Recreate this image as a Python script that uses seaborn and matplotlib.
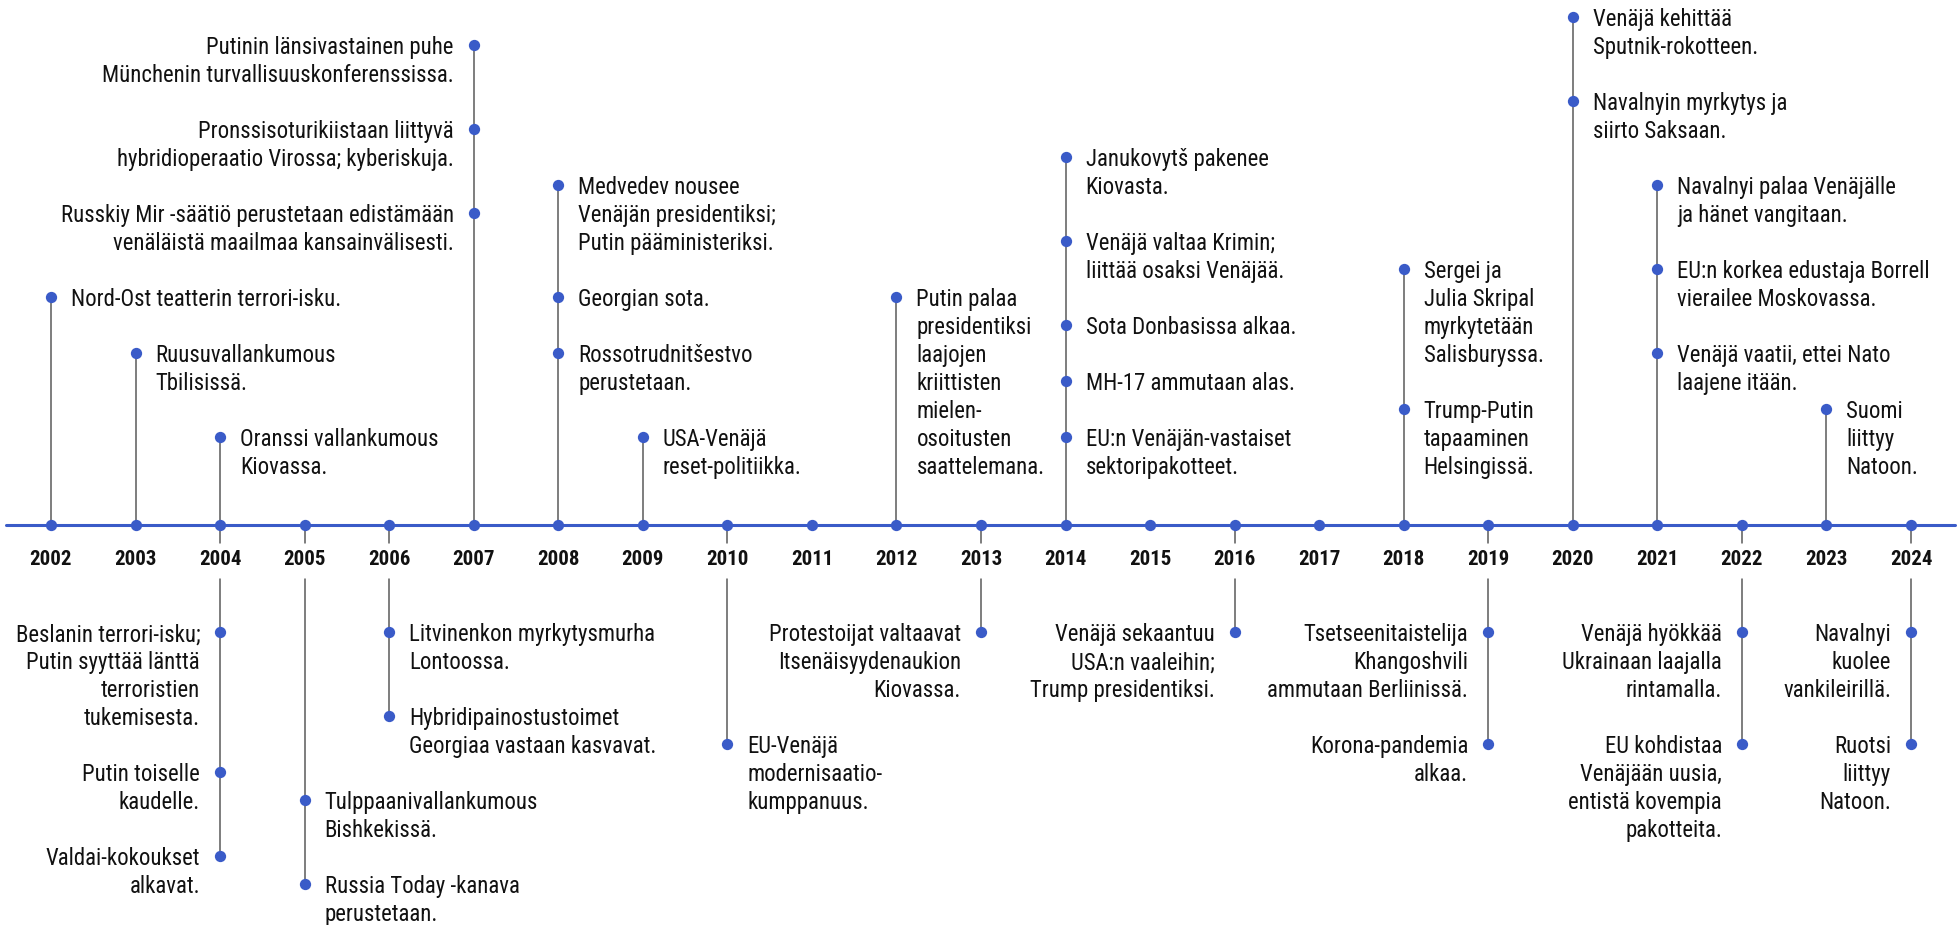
import matplotlib
matplotlib.use("Agg")
import matplotlib.pyplot as plt
from matplotlib import font_manager
import seaborn as sns
import pandas as pd

# timeline years
years = list(range(2002, 2025))

# events above the axis
up_year = [2002, 2003, 2004, 2007, 2007, 2007, 2008, 2008, 2008, 2009, 2012,
           2014, 2014, 2014, 2014, 2014, 2018, 2018, 2020, 2020, 2021, 2021,
           2021, 2023]
up_text = [
    "Nord-Ost teatterin terrori-isku.",
    "Ruusuvallankumous\nTbilisissä.",
    "Oranssi vallankumous\nKiovassa.",
    "Putinin länsivastainen puhe\nMünchenin turvallisuuskonferenssissa.",
    "Pronssisoturikiistaan liittyvä\nhybridioperaatio Virossa; kyberiskuja.",
    "Russkiy Mir -säätiö perustetaan edistämään\nvenäläistä maailmaa kansainvälisesti.",
    "Medvedev nousee\nVenäjän presidentiksi;\nPutin pääministeriksi.",
    "Georgian sota.",
    "Rossotrudnitšestvo\nperustetaan.",
    "USA-Venäjä\nreset-politiikka.",
    "Putin palaa\npresidentiksi\nlaajojen\nkriittisten\nmielen-\nosoitusten\nsaattelemana.",
    "Janukovytš pakenee\nKiovasta.",
    "Venäjä valtaa Krimin;\nliittää osaksi Venäjää.",
    "Sota Donbasissa alkaa.",
    "MH-17 ammutaan alas.",
    "EU:n Venäjän-vastaiset\nsektoripakotteet.",
    "Sergei ja\nJulia Skripal\nmyrkytetään\nSalisburyssa.",
    "Trump-Putin\ntapaaminen\nHelsingissä.",
    "Venäjä kehittää\nSputnik-rokotteen.",
    "Navalnyin myrkytys ja\nsiirto Saksaan.",
    "Navalnyi palaa Venäjälle\nja hänet vangitaan.",
    "EU:n korkea edustaja Borrell\nvierailee Moskovassa.",
    "Venäjä vaatii, ettei Nato\nlaajene itään.",
    "Suomi\nliittyy\nNatoon.",
]

# events below the axis
down_year = [2004, 2004, 2004, 2005, 2005, 2006, 2006, 2010, 2013, 2016,
             2019, 2019, 2022, 2022, 2024, 2024]
down_text = [
    "Beslanin terrori-isku;\nPutin syyttää länttä\nterroristien\ntukemisesta.",
    "Putin toiselle\nkaudelle.",
    "Valdai-kokoukset\nalkavat.",
    "Tulppaanivallankumous\nBishkekissä.",
    "Russia Today -kanava\nperustetaan.",
    "Litvinenkon myrkytysmurha\nLontoossa.",
    "Hybridipainostustoimet\nGeorgiaa vastaan kasvavat.",
    "EU-Venäjä\nmodernisaatio-\nkumppanuus.",
    "Protestoijat valtaavat\nItsenäisyydenaukion\nKiovassa.",
    "Venäjä sekaantuu\nUSA:n vaaleihin;\nTrump presidentiksi.",
    "Tsetseenitaistelija\nKhangoshvili\nammutaan Berliinissä.",
    "Korona-pandemia\nalkaa.",
    "Venäjä hyökkää\nUkrainaan laajalla\nrintamalla.",
    "EU kohdistaa\nVenäjään uusia,\nentistä kovempia\npakotteita.",
    "Navalnyi\nkuolee\nvankileirillä.",
    "Ruotsi\nliittyy\nNatoon.",
]

# layout: text-line slot of each dot, and which side the label sits on
up_row = [8, 6, 3, 17, 14, 11, 12, 8, 6, 3, 8, 13, 10, 7, 5, 3, 9, 4, 18, 15,
          12, 9, 6, 4]
up_side = ["r", "r", "r", "l", "l", "l", "r", "r", "r", "r", "r", "r", "r",
           "r", "r", "r", "r", "r", "r", "r", "r", "r", "r", "r"]
down_row = [4, 9, 12, 10, 13, 4, 7, 8, 4, 4, 4, 8, 4, 8, 4, 8]
down_side = ["l", "l", "l", "r", "r", "r", "r", "r", "l", "l", "l", "l", "l",
             "l", "l", "l"]

BLUE = "#3a5bc8"
STEM = "#5a5a5a"

sns.set_theme(style="white")
avail = {f.name for f in font_manager.fontManager.ttflist}
font = "DejaVu Sans"
for cand in ["Roboto Condensed", "Liberation Sans Narrow", "DejaVu Sans Condensed",
             "Lato", "Noto Sans"]:
    if cand in avail:
        font = cand
        break
plt.rcParams["font.family"] = [font, "DejaVu Sans"]

fig = plt.figure(figsize=(19.59, 9.25), dpi=100)
ax = fig.add_axes([0, 0, 1, 1])
px_year = 84.55
ax.set_xlim(2002 - 51 / px_year, 2024 + 48 / px_year)
ax.set_ylim(-400 / 28, 525 / 28)

up = pd.DataFrame({"year": up_year, "y": [r + 0.15 for r in up_row]})
down = pd.DataFrame({"year": down_year, "y": [-(r - 0.17) for r in down_row]})

# stems
for yr, g in up.groupby("year"):
    ax.plot([yr, yr], [0, g["y"].max()], color=STEM, lw=1.1, zorder=1)
for yr, g in down.groupby("year"):
    ax.plot([yr, yr], [0, -0.64], color=STEM, lw=1.1, zorder=1)
    ax.plot([yr, yr], [-1.93, g["y"].min()], color=STEM, lw=1.1, zorder=1)

# axis line
ax.plot([2002 - 45 / px_year, 2024 + 44 / px_year], [0, 0], color=BLUE, lw=2.2, zorder=2)

dots = pd.concat([up, down, pd.DataFrame({"year": years, "y": [0] * len(years)})])
sns.scatterplot(data=dots, x="year", y="y", color=BLUE, s=66, linewidth=0,
                zorder=3, ax=ax, legend=False)
ax.axis("off")

off = 20 / px_year
FS = 16.4


def label(yr, y, txt, side):
    for i, line in enumerate(txt.split("\n")):
        if side == "r":
            ax.text(yr + off, y - i, line, ha="left", va="center_baseline",
                    fontsize=FS, color="#111111")
        else:
            ax.text(yr - off, y - i, line, ha="right", va="center_baseline",
                    fontsize=FS, color="#111111")


for yr, y, t, s in zip(up["year"], up["y"], up_text, up_side):
    label(yr, y, t, s)
for yr, y, t, s in zip(down["year"], down["y"], down_text, down_side):
    label(yr, y, t, s)

for yr in years:
    ax.text(yr, -1.22, str(yr), ha="center", va="center", fontsize=15,
            fontweight="bold", color="#111111")

fig.savefig("out.png", dpi=100)
